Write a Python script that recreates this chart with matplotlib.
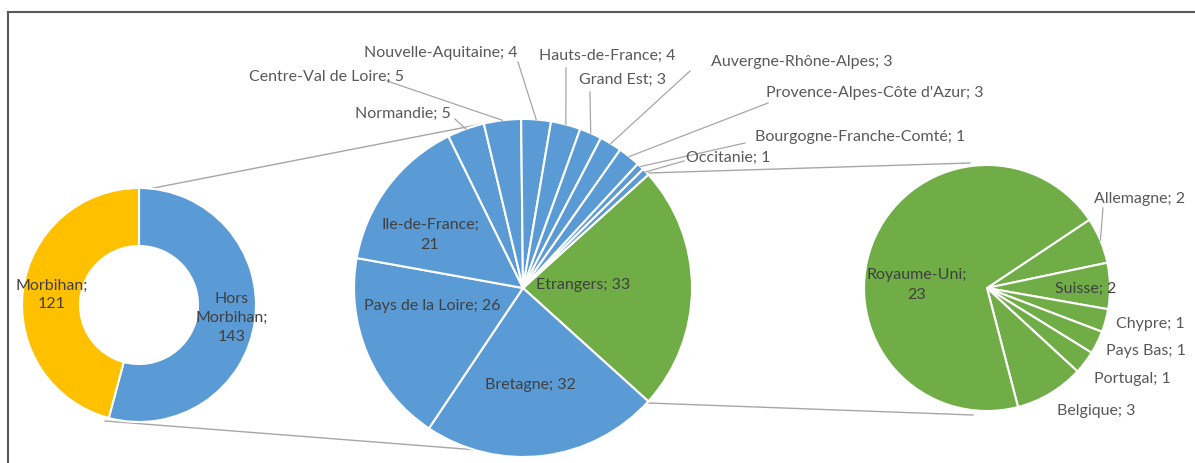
import matplotlib
matplotlib.use('Agg')
import matplotlib.pyplot as plt
from matplotlib.lines import Line2D
import numpy as np

plt.rcParams['font.family'] = ['Lato', 'DejaVu Sans']

# donut: Morbihan vs rest
donut_labels = ['Hors\nMorbihan;\n143', 'Morbihan;\n121']
donut_values = [143, 121]

# middle pie: regions of France + foreigners
region_names = ['Etrangers', 'Bretagne', 'Pays de la Loire', 'Ile-de-France', 'Normandie',
                'Centre-Val de Loire', 'Nouvelle-Aquitaine', 'Hauts-de-France', 'Grand Est',
                'Auvergne-Rhône-Alpes', "Provence-Alpes-Côte d'Azur",
                'Bourgogne-Franche-Comté', 'Occitanie']
region_values = [33, 32, 26, 21, 5, 5, 4, 4, 3, 3, 3, 1, 1]

# right pie: foreign countries
country_names = ['Allemagne', 'Suisse', 'Chypre', 'Pays Bas', 'Portugal', 'Belgique', 'Royaume-Uni']
country_values = [2, 2, 1, 1, 1, 3, 23]

BLUE = '#5B9BD5'
YELLOW = '#FFC000'
GREEN = '#70AD47'
GREY_TXT = '#595959'
DARK_TXT = '#404040'
LINE = '#A6A6A6'

W, H = 1195, 463
fig = plt.figure(figsize=(W / 100, H / 100), dpi=100)
ax = fig.add_axes([0, 0, 1, 1])
ax.axis('off')


def Y(y):
    # image rows -> data y
    return H - y


wp = dict(edgecolor='white', linewidth=1.5)

# donut
ax.pie(donut_values, colors=[BLUE, YELLOW], startangle=90, counterclock=False,
       center=(139, Y(305)), radius=117, wedgeprops=dict(width=58, **wp))

# middle pie
mid_c = (523, Y(288))
mid_r = 169
start_mid = 360 * region_values[0] / sum(region_values) / 2
mid_wedges, _ = ax.pie(region_values, colors=[GREEN] + [BLUE] * 12, startangle=start_mid,
                       counterclock=False, center=mid_c, radius=mid_r, wedgeprops=wp)

# right pie
right_c = (987, Y(288))
right_r = 123
right_wedges, _ = ax.pie(country_values, colors=[GREEN] * 7, startangle=33.7,
                         counterclock=False, center=right_c, radius=right_r, wedgeprops=wp)

ax.set_xlim(0, W)
ax.set_ylim(0, H)
ax.set_aspect('equal')

# connector lines between the charts
for (x0, y0), (x1, y1) in [((128, 193), (487, 123)), ((105, 421), (503, 452)),
                           ((648, 173), (970, 163)), ((648, 403), (973, 415))]:
    ax.plot([x0, x1], [Y(y0), Y(y1)], color=LINE, lw=1, zorder=0)


def edge_point(w, c, r):
    a = np.deg2rad((w.theta1 + w.theta2) / 2)
    return c[0] + r * np.cos(a), c[1] + r * np.sin(a)


fs = 11.5
# donut labels
ax.text(52, Y(295), donut_labels[1], ha='center', va='center', fontsize=fs, color=DARK_TXT,
        linespacing=1.45)
ax.text(232, Y(318), donut_labels[0], ha='center', va='center', fontsize=fs, color=DARK_TXT,
        linespacing=1.45)

# inside labels of middle pie
inside_mid = {0: (583, 285), 1: (530, 385), 2: (432, 306), 3: (430, 235)}
for i, (x, y) in inside_mid.items():
    txt = f'{region_names[i]}; {region_values[i]}'
    if i == 3:
        txt = f'{region_names[i]};\n{region_values[i]}'
    ax.text(x, Y(y), txt, ha='center', va='center', fontsize=fs, color=DARK_TXT, linespacing=1.6)

# outside labels with leader lines: label centre, leader start
outside_mid = {
    4: ((403, 114), (455, 119)),
    5: ((327, 77), (387, 81)),
    6: ((441, 53), (518, 62)),
    7: ((607, 56), (566, 68)),
    8: ((623, 80), (590, 92)),
    9: ((802, 62), (690, 71)),
    10: ((875, 93), (768, 103)),
    11: ((860, 137), (745, 143)),
    12: ((728, 158), (684, 161)),
}
for i, ((x, y), (sx, sy)) in outside_mid.items():
    ax.text(x, Y(y), f'{region_names[i]}; {region_values[i]}', ha='center', va='center',
            fontsize=fs, color=GREY_TXT)
    ex, ey = edge_point(mid_wedges[i], mid_c, mid_r)
    ax.plot([sx, ex], [Y(sy), ey], color=LINE, lw=0.9)

# right pie labels
right_pos = {0: (1140, 199), 1: (1086, 289), 2: (1150, 324), 3: (1146, 351),
             4: (1132, 379), 5: (1096, 411), 6: (917, 285)}
for i, (x, y) in right_pos.items():
    txt = f'{country_names[i]}; {country_values[i]}'
    col = GREY_TXT
    if i == 6:
        txt = f'{country_names[i]};\n{country_values[i]}'
    if i in (1, 6):
        col = DARK_TXT
    ax.text(x, Y(y), txt, ha='center', va='center', fontsize=fs, color=col, linespacing=1.6)
ex, ey = edge_point(right_wedges[0], right_c, right_r)
ax.plot([1103, ex], [Y(208), ey], color=LINE, lw=0.9)

# chart frame (top and left edges)
fig.add_artist(Line2D([8 / W, 1], [1 - 12 / H, 1 - 12 / H], color='#595959', lw=1.5))
fig.add_artist(Line2D([8 / W, 8 / W], [0, 1 - 12 / H], color='#595959', lw=1.5))

fig.savefig('out.png', dpi=100)
